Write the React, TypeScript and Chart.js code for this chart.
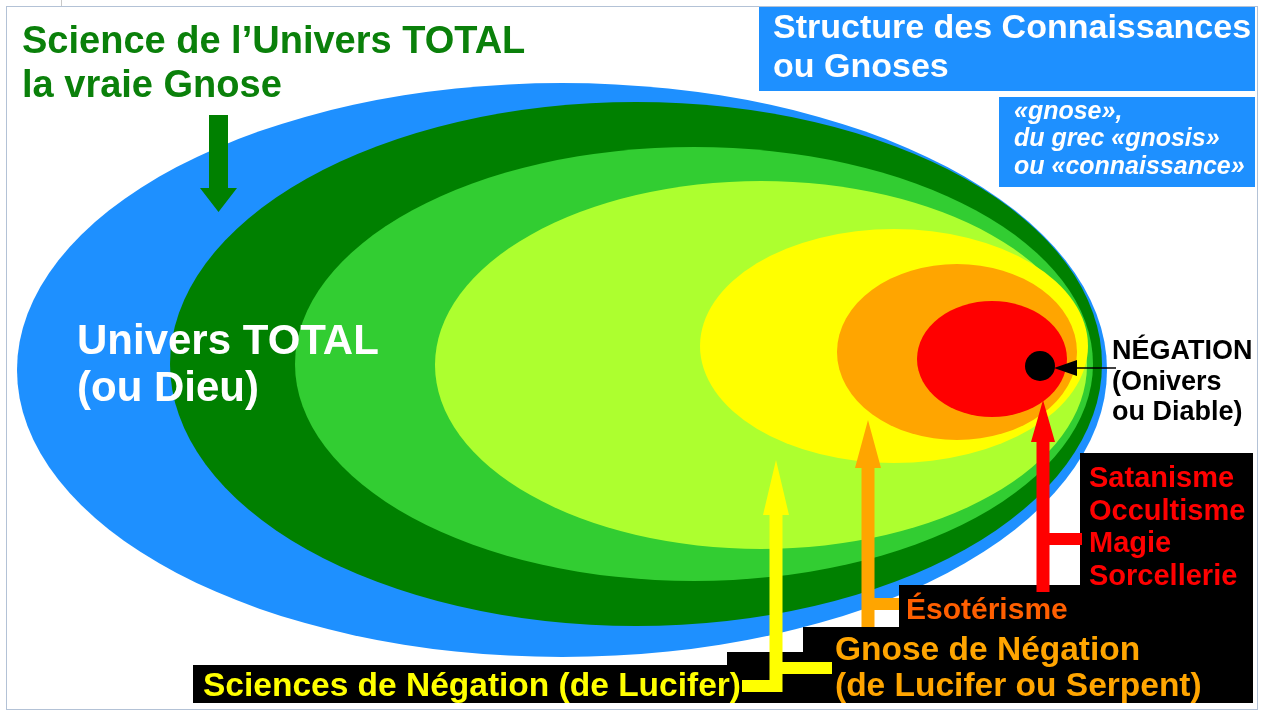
import React, { useEffect, useRef } from 'react';
import { Chart, registerables } from 'chart.js';

Chart.register(...registerables);

// ---- Nested domains of knowledge (outer to inner), diagram units ----
const domainNames = ['Univers TOTAL', 'Science', 'Connaissance', 'Sciences de Négation', 'Gnose de Négation', 'Ésotérisme', 'Satanisme'];
const domainCenterX = [562, 636, 694, 761, 894, 957, 992];
const domainCenterY = [370, 364, 364, 365, 346, 352, 359];
const domainRadiusX = [545, 466, 399, 326, 194, 120, 75];
const domainRadiusY = [287, 262, 217, 184, 117, 88, 58];
const domainColors = ['#1E90FF', '#008000', '#32CD32', '#ADFF2F', '#FFFF00', '#FFA500', '#FF0000'];

// ---- Négation point ----
const negationX = [1040];
const negationY = [366];

// ---- Labels ----
const titleLines = ['Science de l\u2019Univers TOTAL', 'la vraie Gnose'];
const headerLines = ['Structure des Connaissances', 'ou Gnoses'];
const noteLines = ['\u00abgnose\u00bb,', 'du grec \u00abgnosis\u00bb', 'ou \u00abconnaissance\u00bb'];
const universLines = ['Univers TOTAL', '(ou Dieu)'];
const negationLines = ['N\u00c9GATION', '(Onivers', 'ou Diable)'];
const satanLines = ['Satanisme', 'Occultisme', 'Magie', 'Sorcellerie'];
const esoLines = ['\u00c9sot\u00e9risme'];
const gnoseLines = ['Gnose de N\u00e9gation', '(de Lucifer ou Serpent)'];
const sciencesLines = ['Sciences de N\u00e9gation (de Lucifer)'];

const FONT = "'Liberation Sans', Arial, Helvetica, sans-serif";

// text blocks: lines, color, font, x, baselines
const textBlocks = [
  { lines: titleLines, color: '#0A800A', font: `bold 38px ${FONT}`, x: 22, ys: [53, 97] },
  { lines: headerLines, color: '#FFFFFF', font: `bold 34px ${FONT}`, x: 773, ys: [38, 77] },
  { lines: noteLines, color: '#FFFFFF', font: `italic bold 25px ${FONT}`, x: 1014, ys: [119, 146, 174] },
  { lines: universLines, color: '#FFFFFF', font: `bold 42px ${FONT}`, x: 77, ys: [354, 401] },
  { lines: negationLines, color: '#000000', font: `bold 27px ${FONT}`, x: 1112, ys: [359, 390, 420] },
  { lines: satanLines, color: '#FF0000', font: `bold 29px ${FONT}`, x: 1089, ys: [487, 520, 552, 585] },
  { lines: esoLines, color: '#FF5F00', font: `bold 30px ${FONT}`, x: 906, ys: [619] },
  { lines: gnoseLines, color: '#FFA500', font: `bold 33.5px ${FONT}`, x: 835, ys: [660, 696] },
  { lines: sciencesLines, color: '#FFFF00', font: `bold 33.5px ${FONT}`, x: 203, ys: [696] },
];

// rectangles [x0, y0, x1, y1, color]
const boxes: [number, number, number, number, string][] = [
  [759, 7, 1255, 91, '#1E90FF'],
  [999, 97, 1255, 187, '#1E90FF'],
  [193, 665, 760, 703, '#000000'],
  [727, 652, 805, 703, '#000000'],
  [803, 627, 1253, 703, '#000000'],
  [899, 585, 1253, 703, '#000000'],
  [1080, 453, 1253, 703, '#000000'],
];

// upward arrows: color, x, bottom, headBase, tip, shaftW, headW
const upArrows = [
  { color: '#FFFF00', x: 776, bottom: 692, headBase: 515, tip: 460, shaftW: 13, headW: 26 },
  { color: '#FFA500', x: 868, bottom: 627, headBase: 468, tip: 420, shaftW: 13, headW: 26 },
  { color: '#FF0000', x: 1043, bottom: 592, headBase: 442, tip: 400, shaftW: 13, headW: 24 },
];
// connector bars [x0, y0, x1, y1, color]
const bars: [number, number, number, number, string][] = [
  [776, 662, 832, 674, '#FFFF00'],
  [742, 680, 776, 692, '#FFFF00'],
  [868, 598, 899, 610, '#FFA500'],
  [1043, 533, 1082, 545, '#FF0000'],
];

const diagramPlugin = {
  id: 'diagram',
  beforeDatasetsDraw(chart: any) {
    const { ctx, scales } = chart;
    const xs = scales.x;
    const ys = scales.y;
    const px = (v: number) => xs.getPixelForValue(v);
    const py = (v: number) => ys.getPixelForValue(v);
    ctx.save();
    ctx.fillStyle = '#FFFFFF';
    ctx.fillRect(0, 0, chart.width, chart.height);
    // frame
    ctx.strokeStyle = '#B3C2D6';
    ctx.lineWidth = 1;
    ctx.strokeRect(px(6) + 0.5, py(6) + 0.5, px(1257) - px(6), py(709) - py(6));
    ctx.strokeStyle = '#C8C8C8';
    ctx.beginPath();
    ctx.moveTo(px(61) + 0.5, py(0));
    ctx.lineTo(px(61) + 0.5, py(6));
    ctx.stroke();
    // ellipses
    for (let i = 0; i < domainNames.length; i++) {
      const cx = px(domainCenterX[i]);
      const cy = py(domainCenterY[i]);
      const rx = Math.abs(px(domainCenterX[i] + domainRadiusX[i]) - cx);
      const ry = Math.abs(py(domainCenterY[i] + domainRadiusY[i]) - cy);
      ctx.beginPath();
      ctx.ellipse(cx, cy, rx, ry, 0, 0, Math.PI * 2);
      ctx.fillStyle = domainColors[i];
      ctx.fill();
    }
    ctx.restore();
  },
  afterDatasetsDraw(chart: any) {
    const { ctx, scales } = chart;
    const xs = scales.x;
    const ys = scales.y;
    const px = (v: number) => xs.getPixelForValue(v);
    const py = (v: number) => ys.getPixelForValue(v);
    ctx.save();
    // pointer to négation
    ctx.strokeStyle = '#000';
    ctx.lineWidth = 1.5;
    ctx.beginPath();
    ctx.moveTo(px(1116), py(368));
    ctx.lineTo(px(1076), py(368));
    ctx.stroke();
    ctx.fillStyle = '#000';
    ctx.beginPath();
    ctx.moveTo(px(1077), py(360));
    ctx.lineTo(px(1077), py(376));
    ctx.lineTo(px(1054), py(368));
    ctx.closePath();
    ctx.fill();
    // green down arrow
    ctx.fillStyle = '#008000';
    ctx.beginPath();
    ctx.moveTo(px(209), py(115));
    ctx.lineTo(px(228), py(115));
    ctx.lineTo(px(228), py(188));
    ctx.lineTo(px(237), py(188));
    ctx.lineTo(px(218.5), py(212));
    ctx.lineTo(px(200), py(188));
    ctx.lineTo(px(209), py(188));
    ctx.closePath();
    ctx.fill();
    // boxes
    for (const [x0, y0, x1, y1, c] of boxes) {
      ctx.fillStyle = c;
      ctx.fillRect(px(x0), py(y0), px(x1) - px(x0), py(y1) - py(y0));
    }
    // arrows
    for (const a of upArrows) {
      ctx.fillStyle = a.color;
      const hw = a.shaftW / 2;
      const hh = a.headW / 2;
      ctx.beginPath();
      ctx.moveTo(px(a.x - hw), py(a.bottom));
      ctx.lineTo(px(a.x - hw), py(a.headBase));
      ctx.lineTo(px(a.x - hh), py(a.headBase));
      ctx.lineTo(px(a.x), py(a.tip));
      ctx.lineTo(px(a.x + hh), py(a.headBase));
      ctx.lineTo(px(a.x + hw), py(a.headBase));
      ctx.lineTo(px(a.x + hw), py(a.bottom));
      ctx.closePath();
      ctx.fill();
    }
    for (const [x0, y0, x1, y1, c] of bars) {
      ctx.fillStyle = c;
      ctx.fillRect(px(x0), py(y0), px(x1) - px(x0), py(y1) - py(y0));
    }
    // texts
    ctx.textBaseline = 'alphabetic';
    ctx.textAlign = 'left';
    for (const b of textBlocks) {
      ctx.font = b.font;
      ctx.fillStyle = b.color;
      b.lines.forEach((t, i) => ctx.fillText(t, px(b.x), py(b.ys[i])));
    }
    ctx.restore();
  },
};

export default function App() {
  const ref = useRef<HTMLCanvasElement>(null);
  useEffect(() => {
    if (!ref.current) return;
    const chart = new Chart(ref.current, {
      type: 'scatter',
      data: {
        datasets: [
          {
            label: 'Négation',
            data: negationX.map((x, i) => ({ x, y: negationY[i] })),
            pointRadius: 15,
            pointHoverRadius: 15,
            backgroundColor: '#000000',
            borderWidth: 0,
          },
        ],
      },
      options: {
        animation: false,
        responsive: false,
        maintainAspectRatio: false,
        events: [],
        layout: { padding: 0, autoPadding: false },
        scales: {
          x: { type: 'linear', min: 0, max: 1265, display: false },
          y: { type: 'linear', min: 0, max: 713, reverse: true, display: false },
        },
        plugins: { legend: { display: false }, tooltip: { enabled: false }, title: { display: false } },
      },
      plugins: [diagramPlugin],
    } as any);
    return () => chart.destroy();
  }, []);
  return (
    <div style={{ position: 'fixed', left: 0, top: 0, width: 1265, height: 713, background: '#fff' }}>
      <canvas ref={ref} width={1265} height={713} style={{ display: 'block', width: 1265, height: 713 }} />
    </div>
  );
}
